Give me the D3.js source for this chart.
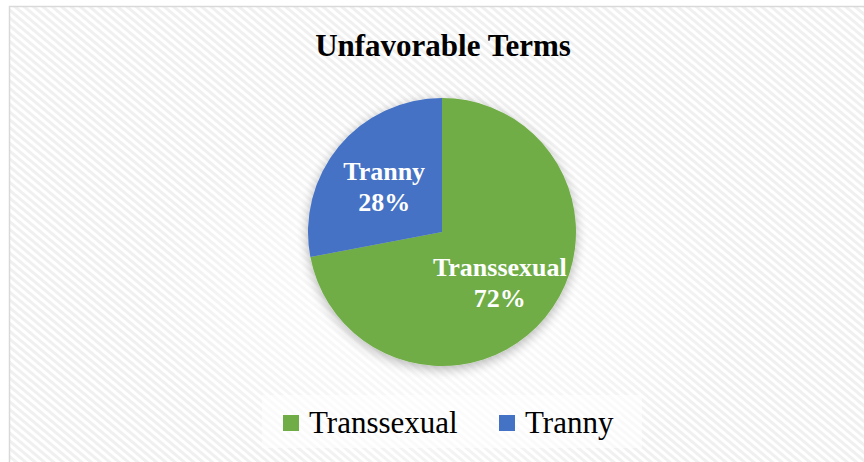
<!DOCTYPE html>
<html>
<head>
<meta charset="utf-8">
<script src="https://cdn.jsdelivr.net/npm/d3@7"></script>
<style>
  body { margin: 0; background: #fff; }
  svg { display: block; font-family: "Liberation Serif", "Times New Roman", serif; }
</style>
</head>
<body>
<script>
// chart data
const title = "Unfavorable Terms";
const categories = ["Transsexual", "Tranny"];
const shares = [72, 28];

// sizes
const W = 864, H = 462;
const cx = 442, cy = 232, radius = 134;

const color = d3.scaleOrdinal()
  .domain(categories)
  .range(["#70ad47", "#4472c4"]);

const svg = d3.select("body").append("svg")
  .attr("width", W)
  .attr("height", H);

const defs = svg.append("defs");

// diagonal hatching of the chart area
const pat = defs.append("pattern")
  .attr("id", "hatch")
  .attr("patternUnits", "userSpaceOnUse")
  .attr("width", 6)
  .attr("height", 6)
  .attr("patternTransform", "rotate(40)");
pat.append("rect").attr("width", 6).attr("height", 6).attr("fill", "#ffffff");
pat.append("rect").attr("width", 6).attr("height", 3).attr("fill", "#f0f0f0");

// soft white glow behind the pie and legend
const glow = defs.append("radialGradient").attr("id", "glow");
glow.append("stop").attr("offset", "0%").attr("stop-color", "#fff").attr("stop-opacity", 0.8);
glow.append("stop").attr("offset", "60%").attr("stop-color", "#fff").attr("stop-opacity", 0.4);
glow.append("stop").attr("offset", "100%").attr("stop-color", "#fff").attr("stop-opacity", 0);

const shadow = defs.append("filter").attr("id", "shadow")
  .attr("x", "-30%").attr("y", "-30%").attr("width", "160%").attr("height", "160%");
shadow.append("feGaussianBlur").attr("in", "SourceAlpha").attr("stdDeviation", 6).attr("result", "b");
shadow.append("feOffset").attr("in", "b").attr("dx", 0).attr("dy", 3).attr("result", "o");
shadow.append("feComponentTransfer").attr("in", "o").attr("result", "s")
  .append("feFuncA").attr("type", "linear").attr("slope", 0.3);
const merge = shadow.append("feMerge");
merge.append("feMergeNode").attr("in", "s");
merge.append("feMergeNode").attr("in", "SourceGraphic");

// chart area + border
svg.append("rect")
  .attr("x", 9.5).attr("y", 6.5)
  .attr("width", 880).attr("height", 480)
  .attr("fill", "url(#hatch)")
  .attr("stroke", "#d9d9d9")
  .attr("stroke-width", 1.5);

svg.append("ellipse")
  .attr("cx", cx).attr("cy", 300)
  .attr("rx", 300).attr("ry", 200)
  .attr("fill", "url(#glow)");

// title
svg.append("text")
  .attr("x", 443)
  .attr("y", 56)
  .attr("text-anchor", "middle")
  .attr("font-size", 31)
  .attr("font-weight", "bold")
  .attr("fill", "#000")
  .text(title);

// pie
const pie = d3.pie().sort(null).value(d => d.value);
const arcs = pie(categories.map((c, i) => ({name: c, value: shares[i]})));

const arc = d3.arc().innerRadius(0).outerRadius(radius);
const labelArc = d3.arc().innerRadius(radius * 0.56).outerRadius(radius * 0.56);

const g = svg.append("g").attr("transform", "translate(" + cx + "," + cy + ")");

g.append("g")
  .attr("filter", "url(#shadow)")
  .selectAll("path")
  .data(arcs)
  .join("path")
  .attr("d", arc)
  .attr("fill", d => color(d.data.name));

const labels = g.selectAll("text.lbl")
  .data(arcs)
  .join("text")
  .attr("class", "lbl")
  .attr("transform", d => "translate(" + labelArc.centroid(d) + ")")
  .attr("text-anchor", "middle")
  .attr("font-size", 26)
  .attr("font-weight", "bold")
  .attr("fill", "#fff");
labels.append("tspan").attr("x", 0).attr("dy", "-0.15em").text(d => d.data.name);
labels.append("tspan").attr("x", 0).attr("dy", "1.2em").text(d => d.data.value + "%");

// legend
const legend = svg.append("g");
legend.append("rect")
  .attr("x", 262).attr("y", 395)
  .attr("width", 380).attr("height", 53)
  .attr("fill", "#fff")
  .attr("fill-opacity", 0.55);

const legendX = [283, 499];
const items = legend.selectAll("g.item")
  .data(categories)
  .join("g")
  .attr("class", "item")
  .attr("transform", (d, i) => "translate(" + legendX[i] + ",415)");
items.append("rect")
  .attr("width", 16).attr("height", 16)
  .attr("fill", d => color(d));
items.append("text")
  .attr("x", 26)
  .attr("y", 18)
  .attr("font-size", 31)
  .attr("fill", "#000")
  .text(d => d);
</script>
</body>
</html>
